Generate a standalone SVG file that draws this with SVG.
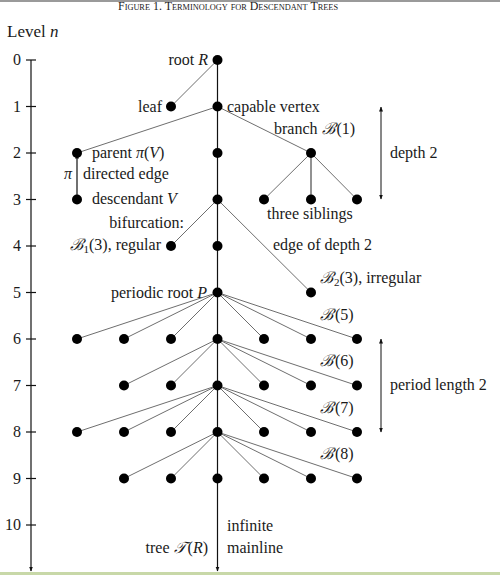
<svg xmlns="http://www.w3.org/2000/svg" width="500" height="575" viewBox="0 0 500 575">
<defs>
<style>
text{font-family:"Liberation Serif","DejaVu Serif",serif;font-size:16px;fill:#1a1a1a}
.num{text-anchor:end}
.e{stroke:#6e6e6e;stroke-width:1;fill:none}
.m{stroke:#111;stroke-width:1.2;fill:none}
.n{fill:#000}
</style>
<marker id="ah" viewBox="0 0 10 10" refX="9" refY="5" markerWidth="5" markerHeight="5" orient="auto-start-reverse" markerUnits="userSpaceOnUse"><path d="M0,1 L10,5 L0,9 z" fill="#111"/></marker>
</defs>
<rect x="0" y="0" width="500" height="2" fill="#9a9a9a"/>
<rect x="0" y="572" width="500" height="3" fill="#c8d8a8"/>
<text x="118" y="10" textLength="220" lengthAdjust="spacingAndGlyphs" style="font-size:11.5px;font-variant:small-caps">Figure 1. Terminology for Descendant Trees</text>
<text x="7" y="37" style="font-size:17px">Level <tspan font-style="italic">n</tspan></text>
<g id="axis">
<line class="m" x1="31" y1="60" x2="31" y2="571" marker-end="url(#ah)"/>
<g stroke="#111" stroke-width="1.2">
<line x1="26" y1="60" x2="36" y2="60"/><line x1="26" y1="106.5" x2="36" y2="106.5"/><line x1="26" y1="153" x2="36" y2="153"/><line x1="26" y1="199.5" x2="36" y2="199.5"/><line x1="26" y1="246" x2="36" y2="246"/><line x1="26" y1="292.5" x2="36" y2="292.5"/><line x1="26" y1="339" x2="36" y2="339"/><line x1="26" y1="385.5" x2="36" y2="385.5"/><line x1="26" y1="432" x2="36" y2="432"/><line x1="26" y1="478.5" x2="36" y2="478.5"/><line x1="26" y1="525" x2="36" y2="525"/>
</g>
<text class="num" x="21" y="65">0</text><text class="num" x="21" y="111.5">1</text><text class="num" x="21" y="158">2</text><text class="num" x="21" y="204.5">3</text><text class="num" x="21" y="251">4</text><text class="num" x="21" y="297.5">5</text><text class="num" x="21" y="344">6</text><text class="num" x="21" y="390.5">7</text><text class="num" x="21" y="437">8</text><text class="num" x="21" y="483.5">9</text><text class="num" x="21" y="530">10</text>
</g>
<g id="connectors">
<line class="m" x1="217.5" y1="60" x2="217.5" y2="571" marker-end="url(#ah)"/>
<line class="e" x1="217.5" y1="60" x2="171" y2="106.5"/>
<line class="e" x1="217.5" y1="106.5" x2="77" y2="153"/>
<line class="e" x1="217.5" y1="106.5" x2="311" y2="153"/>
<line class="m" x1="77" y1="199.5" x2="77" y2="154" marker-end="url(#ah)"/>
<line class="e" x1="311" y1="153" x2="264" y2="199.5"/>
<line class="e" x1="311" y1="153" x2="311" y2="199.5" style="stroke-width:1.5"/>
<line class="e" x1="311" y1="153" x2="357" y2="199.5"/>
<line class="e" x1="217.5" y1="199.5" x2="171" y2="246"/>
<line class="e" x1="217.5" y1="199.5" x2="311" y2="292.5"/>
<g class="e">
<line x1="217.5" y1="292.5" x2="77" y2="339"/><line x1="217.5" y1="292.5" x2="124" y2="339"/><line x1="217.5" y1="292.5" x2="171" y2="339"/><line x1="217.5" y1="292.5" x2="264" y2="339"/><line x1="217.5" y1="292.5" x2="311" y2="339"/><line x1="217.5" y1="292.5" x2="357" y2="339"/>
<line x1="217.5" y1="339" x2="124" y2="385.5"/><line x1="217.5" y1="339" x2="171" y2="385.5"/><line x1="217.5" y1="339" x2="264" y2="385.5"/><line x1="217.5" y1="339" x2="311" y2="385.5"/><line x1="217.5" y1="339" x2="357" y2="385.5"/>
<line x1="217.5" y1="385.5" x2="77" y2="432"/><line x1="217.5" y1="385.5" x2="124" y2="432"/><line x1="217.5" y1="385.5" x2="171" y2="432"/><line x1="217.5" y1="385.5" x2="264" y2="432"/><line x1="217.5" y1="385.5" x2="311" y2="432"/><line x1="217.5" y1="385.5" x2="357" y2="432"/>
<line x1="217.5" y1="432" x2="124" y2="478.5"/><line x1="217.5" y1="432" x2="171" y2="478.5"/><line x1="217.5" y1="432" x2="264" y2="478.5"/><line x1="217.5" y1="432" x2="311" y2="478.5"/><line x1="217.5" y1="432" x2="357" y2="478.5"/>
</g>
<line class="m" x1="381" y1="107" x2="381" y2="199" marker-start="url(#ah)" marker-end="url(#ah)" style="stroke-width:1"/>
<line class="m" x1="381" y1="339" x2="381" y2="432" marker-start="url(#ah)" marker-end="url(#ah)" style="stroke-width:1"/>
</g>
<g id="root"><circle class="n" cx="217.5" cy="60" r="5"/><text x="208" y="65" text-anchor="end">root <tspan font-style="italic">R</tspan></text></g>
<g id="leaf"><circle class="n" cx="171" cy="106.5" r="5"/><text x="162" y="111.5" text-anchor="end">leaf</text></g>
<g id="capable"><circle class="n" cx="217.5" cy="106.5" r="5"/><text x="227" y="111.5">capable vertex</text></g>
<g id="parent"><circle class="n" cx="77" cy="153" r="5"/><text x="92" y="158">parent <tspan font-style="italic">π</tspan>(<tspan font-style="italic">V</tspan>)</text></g>
<g id="directed-label"><text x="64" y="179" font-style="italic">π</text><text x="83" y="179">directed edge</text></g>
<g id="main2"><circle class="n" cx="217.5" cy="153" r="5"/></g>
<g id="branch"><circle class="n" cx="311" cy="153" r="5"/><text x="274" y="134">branch <tspan font-style="italic">ℬ</tspan><tspan dx="2">(1)</tspan></text></g>
<g id="descendant"><circle class="n" cx="77" cy="199.5" r="5"/><text x="92" y="204">descendant <tspan font-style="italic">V</tspan></text></g>
<g id="main3"><circle class="n" cx="217.5" cy="199.5" r="5"/></g>
<g id="siblings"><circle class="n" cx="264" cy="199.5" r="5"/><circle class="n" cx="311" cy="199.5" r="5"/><circle class="n" cx="357" cy="199.5" r="5"/><text x="267" y="219">three siblings</text></g>
<g id="depth2"><text x="390" y="158">depth 2</text></g>
<g id="regular"><circle class="n" cx="171" cy="246" r="5"/><text x="184" y="228" text-anchor="end">bifurcation:</text><text x="161" y="250" text-anchor="end"><tspan font-style="italic">ℬ</tspan><tspan font-size="11" dy="3" dx="1">1</tspan><tspan dy="-3">(3), regular</tspan></text></g>
<g id="main4"><circle class="n" cx="217.5" cy="246" r="5"/></g>
<g id="edge-depth"><text x="273" y="250">edge of depth 2</text></g>
<g id="irregular"><circle class="n" cx="311" cy="292.5" r="5"/><text x="320" y="283"><tspan font-style="italic">ℬ</tspan><tspan font-size="11" dy="3" dx="1">2</tspan><tspan dy="-3">(3), irregular</tspan></text></g>
<g id="periodic-root"><circle class="n" cx="217.5" cy="292.5" r="5"/><text x="207" y="298" text-anchor="end">periodic root <tspan font-style="italic">P</tspan></text></g>
<g id="level6"><circle class="n" cx="77" cy="339" r="5"/><circle class="n" cx="124" cy="339" r="5"/><circle class="n" cx="171" cy="339" r="5"/><circle class="n" cx="217.5" cy="339" r="5"/><circle class="n" cx="264" cy="339" r="5"/><circle class="n" cx="311" cy="339" r="5"/><circle class="n" cx="357" cy="339" r="5"/><text x="320" y="320"><tspan font-style="italic">ℬ</tspan><tspan dx="2">(5)</tspan></text></g>
<g id="level7"><circle class="n" cx="124" cy="385.5" r="5"/><circle class="n" cx="171" cy="385.5" r="5"/><circle class="n" cx="217.5" cy="385.5" r="5"/><circle class="n" cx="264" cy="385.5" r="5"/><circle class="n" cx="311" cy="385.5" r="5"/><circle class="n" cx="357" cy="385.5" r="5"/><text x="320" y="366"><tspan font-style="italic">ℬ</tspan><tspan dx="2">(6)</tspan></text></g>
<g id="level8"><circle class="n" cx="77" cy="432" r="5"/><circle class="n" cx="124" cy="432" r="5"/><circle class="n" cx="171" cy="432" r="5"/><circle class="n" cx="217.5" cy="432" r="5"/><circle class="n" cx="264" cy="432" r="5"/><circle class="n" cx="311" cy="432" r="5"/><circle class="n" cx="357" cy="432" r="5"/><text x="320" y="413"><tspan font-style="italic">ℬ</tspan><tspan dx="2">(7)</tspan></text></g>
<g id="level9"><circle class="n" cx="124" cy="478.5" r="5"/><circle class="n" cx="171" cy="478.5" r="5"/><circle class="n" cx="217.5" cy="478.5" r="5"/><circle class="n" cx="264" cy="478.5" r="5"/><circle class="n" cx="311" cy="478.5" r="5"/><circle class="n" cx="357" cy="478.5" r="5"/><text x="320" y="459"><tspan font-style="italic">ℬ</tspan><tspan dx="2">(8)</tspan></text></g>
<g id="period"><text x="390" y="390">period length 2</text></g>
<g id="mainline-label"><text x="227" y="531">infinite</text><text x="227" y="553">mainline</text><text x="208" y="553" text-anchor="end">tree <tspan font-style="italic">𝒯</tspan><tspan dx="2">(</tspan><tspan font-style="italic">R</tspan>)</text></g>
</svg>
